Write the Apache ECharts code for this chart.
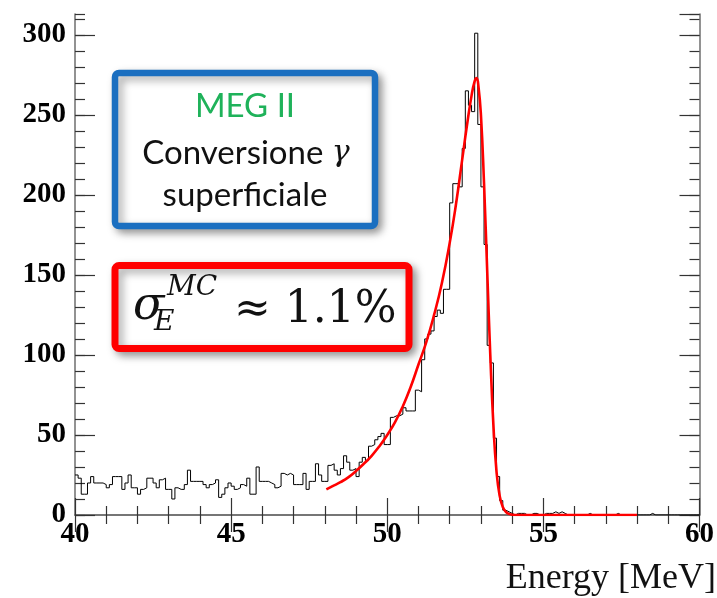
<!DOCTYPE html>
<html>
<head>
<meta charset="utf-8">
<script src="https://cdn.jsdelivr.net/npm/echarts/dist/echarts.min.js"></script>
<style>
  html, body { margin: 0; padding: 0; background: #ffffff; }
  #chart { width: 717px; height: 598px; }
</style>
</head>
<body>
<div id="chart"></div>
<script>
// Histogram binning: 200 bins of 0.1 MeV from 40 to 60 MeV
const binStart = 40;
const binWidth = 0.1;
const counts = [
  25, 23, 13, 13, 20, 24, 20, 20, 20, 19,
  17, 19, 24, 24, 24, 16, 20, 25, 17, 17,
  13, 16, 17, 23, 23, 20, 17, 22, 23, 16,
  16, 10, 17, 16, 16, 19, 28, 21, 21, 21,
  21, 19, 17, 19, 20, 22, 11, 13, 17, 20,
  18, 16, 17, 19, 18, 23, 13, 13, 30, 21,
  21, 21, 20, 19, 17, 18, 26, 25, 26, 25,
  19, 19, 19, 26, 16, 21, 21, 32, 25, 21,
  21, 31, 32, 28, 25, 29, 37, 33, 28, 29,
  24, 33, 36, 34, 43, 44, 47, 49, 51, 44,
  44, 61, 62, 62, 63, 67, 65, 65, 65, 78,
  77, 97, 110, 113, 115, 124, 128, 126, 141, 141,
  195, 207, 207, 205, 229, 265, 256, 252, 301, 244,
  205, 169, 106, 95, 48, 24, 9, 3, 2, 1,
  0, 1, 1, 1, 0, 0, 1, 1, 0, 0,
  1, 1, 1, 2, 1, 2, 1, 0, 0, 0,
  0, 0, 0, 0, 1, 0, 0, 0, 0, 0,
  0, 0, 0, 1, 0, 0, 0, 0, 0, 0,
  0, 0, 0, 0, 1, 0, 0, 0, 0, 0,
  0, 0, 0, 0, 0, 0, 0, 0, 0, 0
];

// Fitted response curve (fit range 48-58 MeV)
const fitEnergy = [48.05, 48.25, 48.5, 48.75, 49.0, 49.25, 49.5, 49.75, 50.0, 50.25, 50.5, 50.75,
                   51.0, 51.25, 51.5, 51.75, 52.0, 52.2, 52.4, 52.55, 52.7, 52.8, 52.86, 52.92,
                   53.0, 53.1, 53.2, 53.3, 53.4, 53.5, 53.6, 53.7, 53.8, 53.9, 54.0, 54.2,
                   54.5, 55.0, 56.0, 57.0, 58.0];
const fitCounts = [16, 18, 20.5, 23.5, 27.5, 32, 37, 43, 50, 58, 68, 80,
                   94, 108, 125, 145, 170, 194, 222, 243, 262, 271, 273, 268,
                   250, 207, 153, 100, 56, 27, 12, 5, 2, 0.7, 0.2, 0,
                   0, 0, 0, 0, 0];

// Axis ranges and tick labels
const xMin = 40, xMax = 60, xMajor = 5;
const yMin = 0, yMax = 313, yMajor = 50, yMinor = 10;
const xTickLabels = ['40', '45', '50', '55', '60'];
const yTickLabels = ['0', '50', '100', '150', '200', '250', '300'];
const xTitle = 'Energy [MeV]';

// Step outline: left edge of each bin, plus the closing right edge
const histData = counts.map((c, i) => [+(binStart + i * binWidth).toFixed(2), c]);
histData.push([+(binStart + counts.length * binWidth).toFixed(2), counts[counts.length - 1]]);
const fitData = fitEnergy.map((e, i) => [e, fitCounts[i]]);

const frameColor = '#6e6e6e';
const tickColor = '#333333';
const labelFont = { fontFamily: 'Liberation Serif', fontWeight: 'bold', fontSize: 29, color: '#000' };

function xAxisCfg(pos, withLabels) {
  return {
    type: 'value', position: pos, min: xMin, max: xMax, interval: xMajor,
    axisLine: { show: true, lineStyle: { color: frameColor, width: 1.5 } },
    axisTick: { show: true, inside: true, length: 17, lineStyle: { color: tickColor, width: 1.2 } },
    minorTick: { show: true, splitNumber: 5, length: 9, lineStyle: { color: tickColor, width: 1.2 } },
    axisLabel: withLabels ? Object.assign({
      show: true, margin: 5,
      formatter: v => xTickLabels[Math.round((v - xMin) / xMajor)] || ''
    }, labelFont) : { show: false },
    splitLine: { show: false }
  };
}
function yAxisCfg(pos, major, withLabels, withLine) {
  return {
    type: 'value', position: pos, min: yMin, max: yMax, interval: major ? yMajor : yMinor,
    axisLine: { show: withLine, lineStyle: { color: frameColor, width: 1.5 } },
    axisTick: { show: true, inside: true, length: major ? 20 : 10, lineStyle: { color: tickColor, width: 1.2 } },
    axisLabel: withLabels ? Object.assign({
      show: true, margin: 9, showMaxLabel: false,
      formatter: v => (v % yMajor === 0 ? yTickLabels[v / yMajor] || '' : '')
    }, labelFont) : { show: false },
    splitLine: { show: false }
  };
}

const chart = echarts.init(document.getElementById('chart'), null, { renderer: 'canvas' });

const shadow = { shadowColor: 'rgba(0,0,0,0.35)', shadowBlur: 8, shadowOffsetX: 4, shadowOffsetY: 4 };
const boxText = { fontFamily: 'Lato', fontSize: 33, fill: '#111', textAlign: 'center', textVerticalAlign: 'middle' };

chart.setOption({
  animation: false,
  backgroundColor: '#ffffff',
  grid: { left: 75, right: 14, top: 14, bottom: 83, containLabel: false },
  xAxis: [xAxisCfg('bottom', true), xAxisCfg('top', false)],
  yAxis: [
    yAxisCfg('left', true, true, true),
    yAxisCfg('right', true, false, true),
    yAxisCfg('left', false, false, false),
    yAxisCfg('right', false, false, false)
  ],
  series: [
    {
      name: 'histogram', type: 'line', step: 'end', data: histData,
      xAxisIndex: 0, yAxisIndex: 0, symbol: 'none', silent: true,
      lineStyle: { color: '#000000', width: 1 }, z: 3
    },
    {
      name: 'fit', type: 'line', data: fitData, smooth: 0.5,
      xAxisIndex: 0, yAxisIndex: 0, symbol: 'none', silent: true,
      lineStyle: { color: '#ff0000', width: 2.6 }, z: 4
    }
  ],
  graphic: [
    {
      type: 'rect', z: 10,
      shape: { x: 115, y: 73, width: 260, height: 153, r: 4 },
      style: Object.assign({ fill: '#ffffff', stroke: '#1b6fc0', lineWidth: 6.5 }, shadow)
    },
    { type: 'text', z: 11, x: 245, y: 106, style: Object.assign({}, boxText, { text: 'MEG II', fill: '#1fb25a' }) },
    {
      type: 'text', z: 11, x: 246, y: 153,
      style: Object.assign({}, boxText, {
        text: '{a|Conversione }{g|γ}',
        rich: {
          a: { fontFamily: 'Lato', fontSize: 33, fill: '#111' },
          g: { fontFamily: 'DejaVu Serif', fontStyle: 'italic', fontSize: 30, fill: '#111' }
        }
      })
    },
    { type: 'text', z: 11, x: 245, y: 195, style: Object.assign({}, boxText, { text: 'superficiale' }) },
    {
      type: 'rect', z: 10,
      shape: { x: 115, y: 265.5, width: 294, height: 83, r: 4 },
      style: Object.assign({ fill: '#ffffff', stroke: '#ff0000', lineWidth: 7 }, shadow)
    },
    {
      type: 'text', z: 11, x: 133, y: 307,
      style: { text: 'σ', fontFamily: 'DejaVu Serif', fontStyle: 'italic', fontSize: 46, fill: '#111', textAlign: 'left', textVerticalAlign: 'middle' }
    },
    {
      type: 'text', z: 11, x: 154, y: 323,
      style: { text: 'E', fontFamily: 'DejaVu Serif', fontStyle: 'italic', fontSize: 28, fill: '#111', textAlign: 'left', textVerticalAlign: 'middle' }
    },
    {
      type: 'text', z: 11, x: 167, y: 288,
      style: { text: 'MC', fontFamily: 'DejaVu Serif', fontStyle: 'italic', fontSize: 28, fill: '#111', textAlign: 'left', textVerticalAlign: 'middle' }
    },
    {
      type: 'text', z: 11, x: 234, y: 311,
      style: { text: '≈ 1.1%', fontFamily: 'DejaVu Serif', fontSize: 44, fill: '#111', textAlign: 'left', textVerticalAlign: 'middle' }
    },
    {
      type: 'text', z: 5, x: 716, y: 579,
      style: { text: xTitle, fontFamily: 'Liberation Serif', fontSize: 36, fill: '#111', textAlign: 'right', textVerticalAlign: 'middle' }
    }
  ]
});
</script>
</body>
</html>
